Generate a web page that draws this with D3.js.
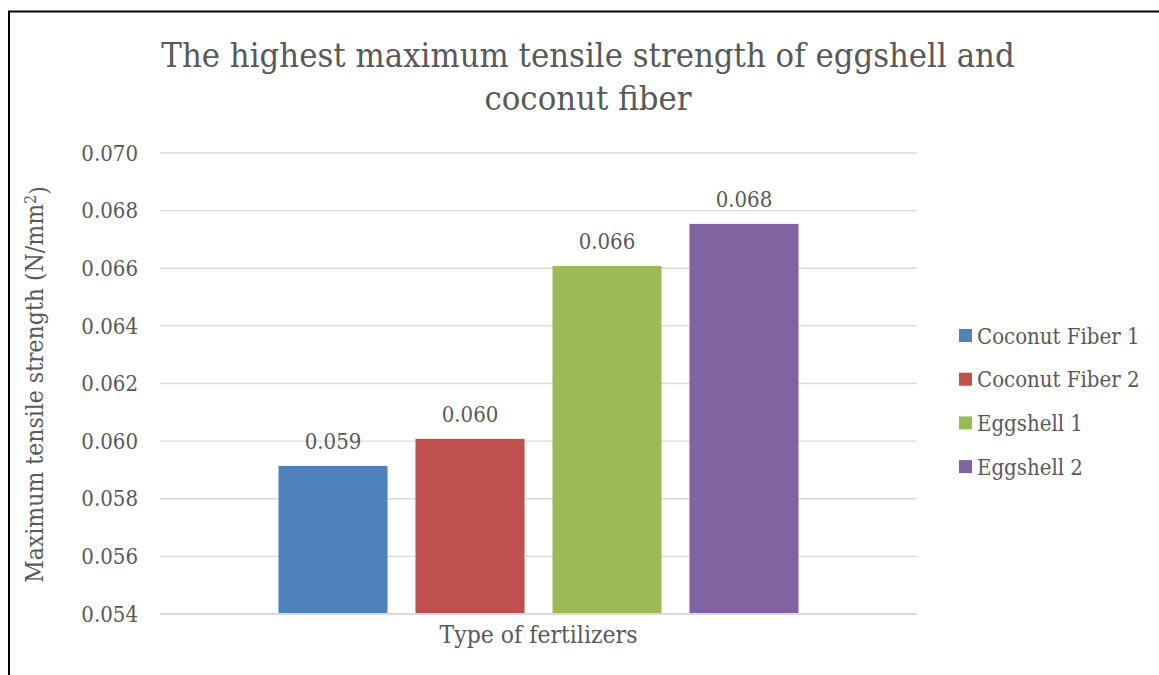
<!DOCTYPE html>
<html><head><meta charset="utf-8">
<script src="https://cdn.jsdelivr.net/npm/d3@7"></script>
<style>body{margin:0;background:#fff}svg{display:block}text{font-family:"DejaVu Serif Condensed","DejaVu Serif",serif;fill:#595959}</style>
</head><body>
<script>
const series = ["Coconut Fiber 1","Coconut Fiber 2","Eggshell 1","Eggshell 2"];
const values = [0.05914,0.06008,0.06608,0.06754];
const labels = ["0.059","0.060","0.066","0.068"];
const colors = ["#4f81bd","#c0504d","#9bbb59","#8064a2"];
const yTicks = [0.054,0.056,0.058,0.060,0.062,0.064,0.066,0.068,0.070];
const titleLines = ["The highest maximum tensile strength of eggshell and","coconut fiber"];
const xTitle = "Type of fertilizers";

const W=1159,H=675;
const svg=d3.select("body").append("svg").attr("width",W).attr("height",H);
svg.append("path").attr("d",`M9,${H} V11.5 H${W}`).attr("fill","none").attr("stroke","#000").attr("stroke-width",2);

const plot={l:160,r:917,t:153,b:614};
const y=d3.scaleLinear().domain([0.054,0.070]).range([plot.b,plot.t]);
const x=d3.scaleBand().domain(series).range([plot.l,plot.r]).paddingInner(0.204).paddingOuter(0.865);

const g=svg.append("g");
g.selectAll("line.grid").data(yTicks).join("line").attr("class","grid")
 .attr("x1",plot.l).attr("x2",plot.r).attr("y1",d=>y(d)).attr("y2",d=>y(d))
 .attr("stroke","#d9d9d9").attr("stroke-width",d=>d===0.054?2:1.3);
g.selectAll("text.tick").data(yTicks).join("text").attr("class","tick")
 .attr("x",138).attr("y",d=>y(d)).attr("dy","0.35em").attr("text-anchor","end")
 .style("font-size","22px").text(d=>d3.format(".3f")(d));

g.selectAll("rect.bar").data(series).join("rect").attr("class","bar")
 .attr("x",d=>x(d)).attr("width",x.bandwidth())
 .attr("y",(d,i)=>y(values[i])).attr("height",(d,i)=>y(0.054)-y(values[i])-1)
 .attr("fill",(d,i)=>colors[i]);
g.selectAll("text.lbl").data(series).join("text").attr("class","lbl")
 .attr("x",d=>x(d)+x.bandwidth()/2).attr("y",(d,i)=>y(values[i])-17)
 .attr("text-anchor","middle").style("font-size","22px").text((d,i)=>labels[i]);

svg.selectAll("text.title").data(titleLines).join("text").attr("class","title")
 .attr("x",588).attr("y",(d,i)=>67+i*43).attr("text-anchor","middle")
 .style("font-size","34.3px").text(d=>d);

svg.append("text").attr("x",(plot.l+plot.r)/2).attr("y",643).attr("text-anchor","middle")
 .style("font-size","24.5px").text(xTitle);

const yt=svg.append("text").attr("transform",`translate(43,${(plot.t+plot.b)/2+1}) rotate(-90)`)
 .attr("text-anchor","middle").style("font-size","24.5px");
yt.append("tspan").text("Maximum tensile strength (N/mm");
yt.append("tspan").attr("dy","-0.45em").style("font-size","16px").text("2");
yt.append("tspan").attr("dy","0.45em").text(")");

const lg=svg.append("g");
lg.selectAll("rect").data(series).join("rect")
 .attr("x",959).attr("y",(d,i)=>330+i*43.7-1).attr("width",13).attr("height",13).attr("fill",(d,i)=>colors[i]);
lg.selectAll("text").data(series).join("text")
 .attr("x",977).attr("y",(d,i)=>336+i*43.7).attr("dy","0.35em").style("font-size","22px").text(d=>d);
</script>
</body></html>
